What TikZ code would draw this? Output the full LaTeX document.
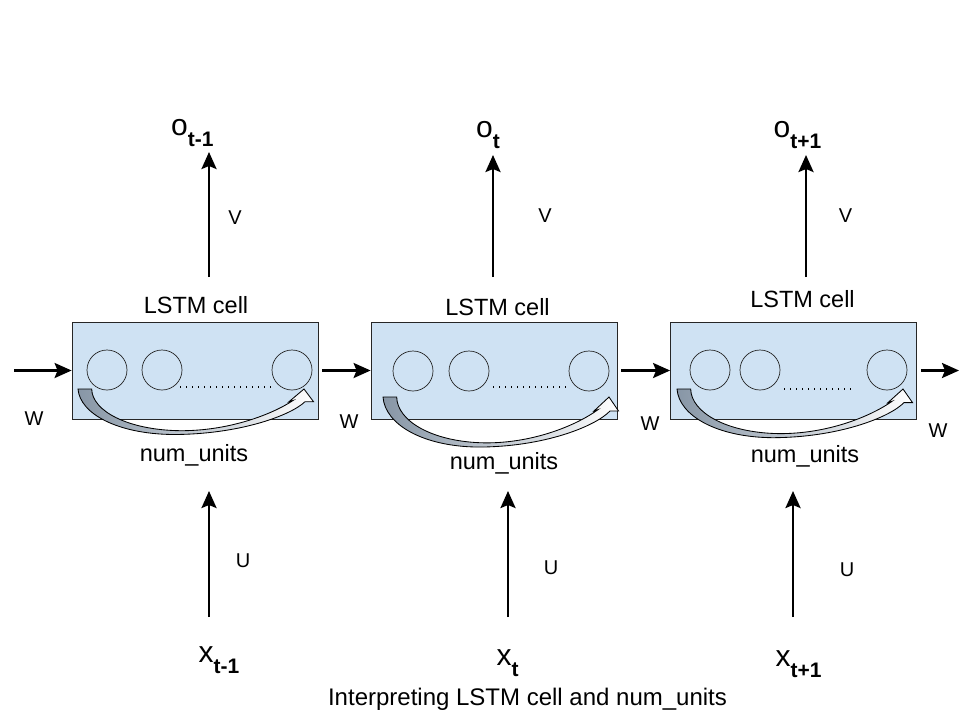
\documentclass[tikz,border=0pt]{standalone}
\usepackage{fontspec}
\setmainfont{Liberation Sans}
\usetikzlibrary{arrows.meta}
\definecolor{cellblue}{RGB}{207,226,243}
\definecolor{bandgray}{RGB}{135,150,166}
\tikzset{
  cellbox/.style={draw=black!85, line width=0.8pt, fill=cellblue, minimum width=246pt, minimum height=97pt, inner sep=0pt},
  unit/.style={draw=black!85, line width=0.7pt, circle, minimum size=40pt, inner sep=0pt},
  arr/.style={line width=2.6pt, -{Stealth[length=17pt,width=15pt,inset=3pt]}},
  dotline/.style={line width=1.2pt, dash pattern=on 1.4pt off 4.6pt},
  band/.style={draw=black, line width=0.85pt, left color=bandgray, right color=white},
  lbl/.style={anchor=base, inner sep=0pt, font=\fontsize{23.5}{26}\selectfont},
  wt/.style={anchor=base, inner sep=0pt, font=\fontsize{20}{22}\selectfont},
  var/.style={anchor=base west, inner sep=0pt, font=\fontsize{30}{32}\selectfont},
}
\newcommand{\lsub}[1]{\raisebox{-11pt}{\fontsize{21}{23}\selectfont\bfseries #1}}
\newcommand{\unitband}[3]{%
  \begin{scope}[shift={(#1,#2)}, yscale=#3]
    \shade[band] (0,0) -- (13.7,0) .. controls (14,22) and (50,41) .. (102,41.7)
      .. controls (150,42) and (193,26) .. (215,11.5) -- (211,12.7) -- (226,0) -- (235.5,12.7) -- (227,12.7)
      .. controls (212,27) and (160,45.5) .. (95,45.5)
      .. controls (40,45) and (2,25) .. (0,0) -- cycle;
  \end{scope}}
\begin{document}
\begin{tikzpicture}[x=1pt,y=-1pt]
\useasboundingbox (0,0) rectangle (960,720);
\fill[white] (0,0) rectangle (960,720);

% cells
\node[cellbox] (b1) at (195,370.5) {};
\node[cellbox] (b2) at (494,370.5) {};
\node[cellbox] (b3) at (793.5,370.5) {};

% units
\node[unit] (u11) at (107,370) {};
\node[unit] (u12) at (162,370) {};
\node[unit] (u13) at (292,370) {};
\node[unit] (u21) at (413,371) {};
\node[unit] (u22) at (469,371) {};
\node[unit] (u23) at (589,371) {};
\node[unit] (u31) at (710,370) {};
\node[unit] (u32) at (760,370) {};
\node[unit] (u33) at (887,370) {};

\draw[dotline] (180,387) -- (272,387);
\draw[dotline] (493,387) -- (568,387);
\draw[dotline] (784,389) -- (855,389);

% curved unit arrows
\unitband{78}{389}{1}
\unitband{383}{397}{1.1}
\unitband{677}{389}{1.07}

% cell labels
\node[lbl] (l1) at (196,313) {LSTM cell};
\node[lbl] (l2) at (497.5,315) {LSTM cell};
\node[lbl] (l3) at (802.5,307) {LSTM cell};
\node[lbl] (n1) at (194,461) {num\_units};
\node[lbl] (n2) at (504,469) {num\_units};
\node[lbl] (n3) at (805,462) {num\_units};

% horizontal arrows
\coordinate (win) at (14,370.5);
\coordinate (wout) at (959,370.5);
\draw[arr] (win) -- (b1.west);
\draw[arr] ([xshift=4pt]b1.east) -- (b2.west);
\draw[arr] ([xshift=4pt]b2.east) -- (b3.west);
\draw[arr] ([xshift=4pt]b3.east) -- (wout);

\node[wt] (w0) at (34,425) {W};
\node[wt] (w1) at (349,428) {W};
\node[wt] (w2) at (650,430) {W};
\node[wt] (w3) at (938,437) {W};

% output arrows
\coordinate (os1) at (209,277); \coordinate (oe1) at (209,152);
\coordinate (os2) at (493,277); \coordinate (oe2) at (493,155);
\coordinate (os3) at (806,277); \coordinate (oe3) at (806,155);
\draw[arr] (os1) -- (oe1);
\draw[arr] (os2) -- (oe2);
\draw[arr] (os3) -- (oe3);
\node[wt] (v1) at (235,224) {V};
\node[wt] (v2) at (545,222) {V};
\node[wt] (v3) at (845.5,222) {V};

\node[var] (o1) at (171,135) {o\lsub{t-1}};
\node[var] (o2) at (476,137) {o\lsub{t}};
\node[var] (o3) at (773.5,137) {o\lsub{t+1}};

% input arrows
\coordinate (is1) at (209,617); \coordinate (ie1) at (209,491);
\coordinate (is2) at (508,617); \coordinate (ie2) at (508,491);
\coordinate (is3) at (793,617); \coordinate (ie3) at (793,491);
\draw[arr] (is1) -- (ie1);
\draw[arr] (is2) -- (ie2);
\draw[arr] (is3) -- (ie3);
\node[wt] (uu1) at (243,567) {U};
\node[wt] (uu2) at (551,574) {U};
\node[wt] (uu3) at (847,576) {U};

\node[var] (x1) at (198.5,662) {x\lsub{t-1}};
\node[var] (x2) at (496.5,665) {x\lsub{t}};
\node[var] (x3) at (775.5,666) {x\lsub{t+1}};

\node[anchor=base, inner sep=0pt, font=\fontsize{24}{26}\selectfont] (cap) at (527.5,705) {Interpreting LSTM cell and num\_units};
\end{tikzpicture}
\end{document}
